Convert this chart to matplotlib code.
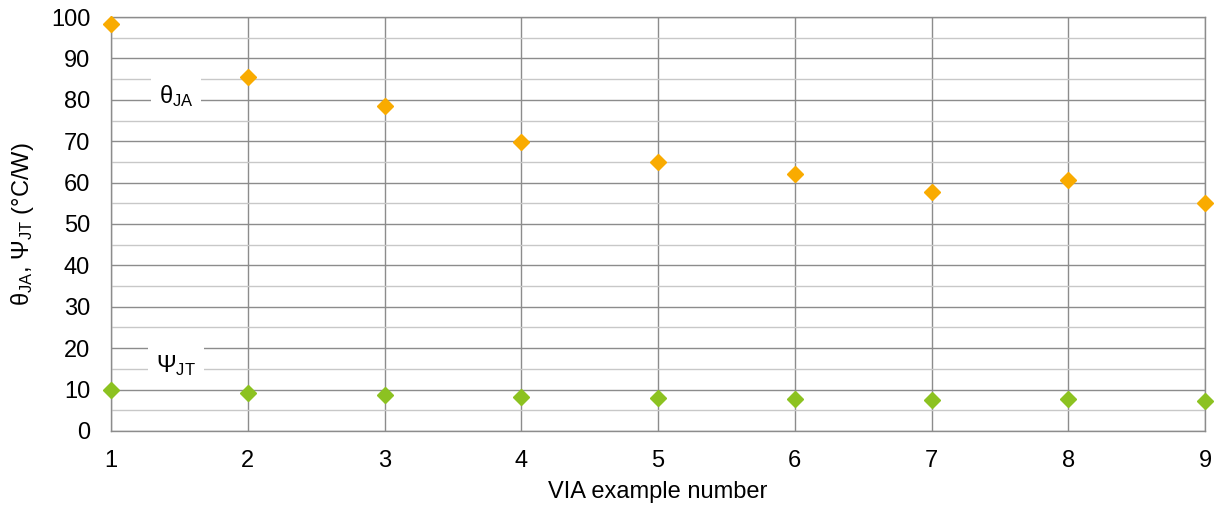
import matplotlib
matplotlib.use("Agg")
import matplotlib.pyplot as plt
from matplotlib.ticker import MultipleLocator

plt.rcParams['font.family'] = ['Liberation Sans', 'DejaVu Sans']
plt.rcParams['mathtext.fontset'] = 'custom'
plt.rcParams['mathtext.rm'] = 'Liberation Sans'
plt.rcParams['mathtext.it'] = 'Liberation Sans'

via_example = [1, 2, 3, 4, 5, 6, 7, 8, 9]
theta_ja = [98.3, 85.5, 78.5, 69.8, 65.0, 62.1, 57.7, 60.6, 55.1]
psi_jt = [9.9, 9.2, 8.7, 8.2, 8.0, 7.8, 7.5, 7.7, 7.3]

orange = '#F9AB00'
green = '#8CC221'

fig = plt.figure(figsize=(12.16, 5.11), dpi=100)
ax = fig.add_axes([0.0913, 0.1566, 0.8997, 0.8101])

ax.set_xlim(1, 9)
ax.set_ylim(0, 100)
ax.xaxis.set_major_locator(MultipleLocator(1))
ax.yaxis.set_major_locator(MultipleLocator(10))
ax.yaxis.set_minor_locator(MultipleLocator(5))
ax.grid(which='major', axis='both', color='#8c8c8c', lw=1.0, zorder=0)
ax.grid(which='minor', axis='y', color='#c8c8c8', lw=1.0, zorder=0)
ax.set_axisbelow(True)
for s in ax.spines.values():
    s.set_color('#8c8c8c')
    s.set_linewidth(1.0)
ax.tick_params(which='both', length=0)
ax.tick_params(axis='x', pad=13.5, labelsize=17)
ax.tick_params(axis='y', pad=15, labelsize=17)

ax.plot(via_example, theta_ja, linestyle='none', marker='D', markersize=8.5,
        color=orange, clip_on=False, zorder=5)
ax.plot(via_example, psi_jt, linestyle='none', marker='D', markersize=8.5,
        color=green, clip_on=False, zorder=5)

bbox = dict(facecolor='white', edgecolor='none', pad=5.5)
ax.text(1.475, 81.0, r'θ$_{\mathrm{JA}}$', fontsize=17, ha='center', va='center',
        bbox=bbox, zorder=4)
ax.text(1.475, 15.7, r'Ψ$_{\mathrm{JT}}$', fontsize=17, ha='center', va='center',
        bbox=bbox, zorder=4)

ax.set_xlabel('VIA example number', fontsize=17, labelpad=7)
ax.set_ylabel(r'θ$_{\mathrm{JA}}$, Ψ$_{\mathrm{JT}}$ (°C/W)', fontsize=17, labelpad=11)

fig.savefig('out.png', dpi=100)
